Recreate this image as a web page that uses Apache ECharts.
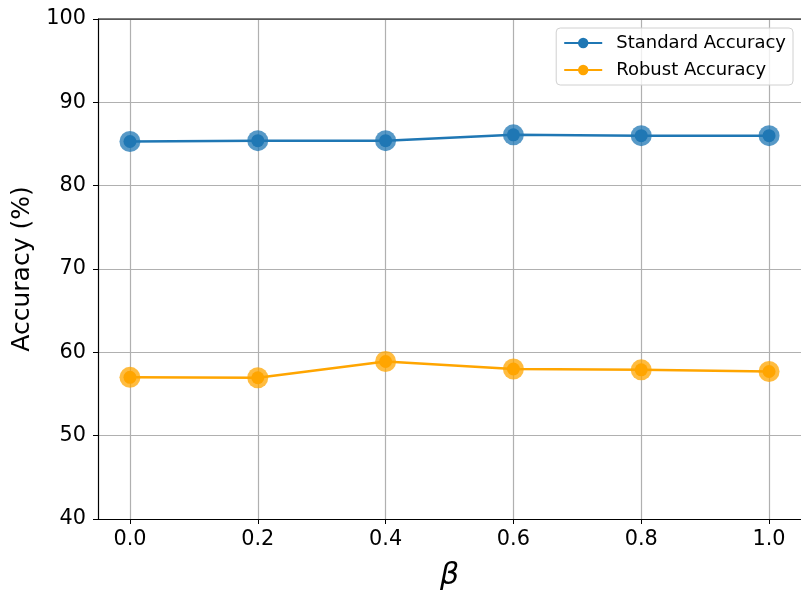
<!DOCTYPE html>
<html>
<head>
<meta charset="utf-8">
<script src="https://cdn.jsdelivr.net/npm/echarts@6/dist/echarts.min.js"></script>
<style>html,body{margin:0;padding:0;background:#fff}#c{width:801px;height:598px}</style>
</head>
<body>
<div id="c"></div>
<script>
const betas = [0.0, 0.2, 0.4, 0.6, 0.8, 1.0];
const standardAcc = [85.3, 85.4, 85.4, 86.1, 86.0, 86.0];
const robustAcc = [57.0, 56.95, 58.9, 58.0, 57.9, 57.7];
const xTicks = [0.0, 0.2, 0.4, 0.6, 0.8, 1.0];
const seriesNames = ['Standard Accuracy', 'Robust Accuracy'];
const colors = ['#1f77b4', '#ffa500'];

const pair = (xs, ys) => xs.map((x, i) => [x, ys[i]]);
const font = 'DejaVu Sans';
const chart = echarts.init(document.getElementById('c'));
const dataSets = [standardAcc, robustAcc];
const series = [];
dataSets.forEach((d, i) => {
  series.push({
    type: 'scatter', data: pair(betas, d), symbolSize: 21,
    itemStyle: { color: colors[i], opacity: 0.75 }, silent: true, z: 3
  });
});
dataSets.forEach((d, i) => {
  series.push({
    name: seriesNames[i], type: 'line', data: pair(betas, d),
    symbol: 'circle', symbolSize: 13,
    lineStyle: { color: colors[i], width: 2.5 },
    itemStyle: { color: colors[i] }, z: 4
  });
});
chart.setOption({
  animation: false,
  textStyle: { fontFamily: font },
  grid: { left: 98, top: 19, width: 704, height: 500, containLabel: false },
  legend: {
    data: seriesNames, orient: 'vertical', right: 8, top: 28,
    itemWidth: 38, itemHeight: 13, itemGap: 9,
    textStyle: { fontFamily: font, fontSize: 18, color: '#000', padding: [0, 0, 0, 9] },
    borderColor: '#d0d0d0', borderWidth: 1, borderRadius: 4,
    padding: [6, 7, 6, 7], backgroundColor: 'rgba(255,255,255,0.8)'
  },
  xAxis: {
    type: 'value', min: -0.05, max: 1.05,
    name: 'β', nameLocation: 'middle', nameGap: 42,
    nameTextStyle: { fontFamily: font, fontSize: 30, fontStyle: 'italic', color: '#000' },
    axisLine: { onZero: false, lineStyle: { color: '#000', width: 1.2 } },
    axisTick: { show: true, customValues: xTicks, length: 5, lineStyle: { color: '#000' } },
    axisLabel: { customValues: xTicks, formatter: v => v.toFixed(1), fontSize: 20.8, color: '#000', margin: 10 },
    splitLine: { show: true, lineStyle: { color: '#b0b0b0', width: 1.2 } }
  },
  yAxis: {
    type: 'value', min: 40, max: 100, interval: 10,
    name: 'Accuracy (%)', nameLocation: 'middle', nameGap: 61,
    nameTextStyle: { fontFamily: font, fontSize: 25, color: '#000' },
    axisLine: { show: true, onZero: false, lineStyle: { color: '#000', width: 1.2 } },
    axisTick: { show: true, length: 5, lineStyle: { color: '#000' } },
    axisLabel: { fontSize: 20.8, color: '#000', margin: 12 },
    splitLine: { show: true, lineStyle: { color: '#b0b0b0', width: 1.2 } }
  },
  graphic: [{
    type: 'line', shape: { x1: 98, y1: 19, x2: 801, y2: 19 },
    style: { stroke: '#000', lineWidth: 1.2 }, z: 10
  }],
  series: series
});
</script>
</body>
</html>
